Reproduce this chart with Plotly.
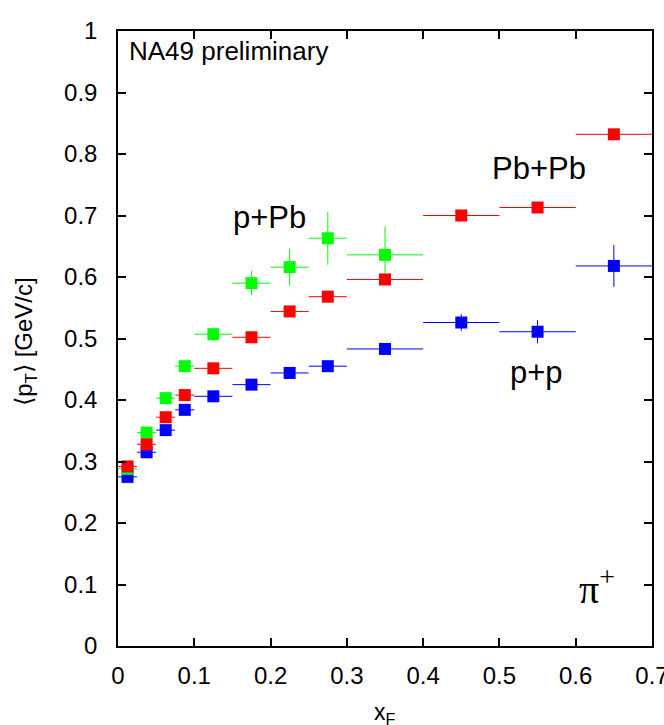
import plotly.graph_objects as go

# ---- data ----
x_centers = [0.0125, 0.0375, 0.0625, 0.0875, 0.125, 0.175, 0.225, 0.275, 0.35, 0.45, 0.55, 0.65]
x_low = [0.0, 0.025, 0.05, 0.075, 0.1, 0.15, 0.2, 0.25, 0.3, 0.4, 0.5, 0.6]
x_high = [0.025, 0.05, 0.075, 0.1, 0.15, 0.2, 0.25, 0.3, 0.4, 0.5, 0.6, 0.7]

pp_pt = [0.275, 0.315, 0.351, 0.384, 0.406, 0.425, 0.444, 0.455, 0.483, 0.526, 0.511, 0.618]
pp_err = [0.003, 0.003, 0.003, 0.003, 0.004, 0.004, 0.005, 0.006, 0.007, 0.0135, 0.019, 0.034]

pPb_pt = [0.288, 0.347, 0.403, 0.455, 0.507, 0.590, 0.616, 0.663, 0.636]
pPb_err_up = [0.003, 0.003, 0.004, 0.005, 0.011, 0.02, 0.03, 0.043, 0.046]
pPb_err_dn = [0.003, 0.003, 0.004, 0.005, 0.011, 0.02, 0.03, 0.043, 0.030]

PbPb_pt = [0.292, 0.328, 0.372, 0.408, 0.4515, 0.502, 0.544, 0.568, 0.596, 0.700, 0.713, 0.832]
PbPb_err = [0.003, 0.003, 0.003, 0.003, 0.004, 0.004, 0.004, 0.005, 0.005, 0.005, 0.006, 0.008]

x_tickvals = [0, 0.1, 0.2, 0.3, 0.4, 0.5, 0.6, 0.7]
x_ticktext = ["0", "0.1", "0.2", "0.3", "0.4", "0.5", "0.6", "0.7"]
y_tickvals = [0, 0.1, 0.2, 0.3, 0.4, 0.5, 0.6, 0.7, 0.8, 0.9, 1.0]
y_ticktext = ["0", "0.1", "0.2", "0.3", "0.4", "0.5", "0.6", "0.7", "0.8", "0.9", "1"]

FONT = "Liberation Sans, Arial, Helvetica, sans-serif"


def series(n, y, up, dn, color, name):
    xs = x_centers[:n]
    xp = [h - c for h, c in zip(x_high[:n], xs)]
    xm = [c - l for l, c in zip(x_low[:n], xs)]
    return go.Scatter(
        x=xs, y=y, mode="markers", name=name,
        marker=dict(symbol="square", size=12, color=color, line=dict(width=0)),
        error_x=dict(type="data", symmetric=False, array=xp, arrayminus=xm,
                     color=color, thickness=1, width=0),
        error_y=dict(type="data", symmetric=False, array=up, arrayminus=dn,
                     color=color, thickness=1, width=0),
        showlegend=False,
    )


fig = go.Figure()
fig.add_trace(series(len(pp_pt), pp_pt, pp_err, pp_err, "#0000ff", "p+p"))
fig.add_trace(series(len(pPb_pt), pPb_pt, pPb_err_up, pPb_err_dn, "#00ff00", "p+Pb"))
fig.add_trace(series(len(PbPb_pt), PbPb_pt, PbPb_err, PbPb_err, "#ff0000", "Pb+Pb"))

axis_common = dict(
    showgrid=False, zeroline=False, showline=True, linecolor="black", linewidth=1.5,
    mirror="ticks", ticks="inside", ticklen=8, tickwidth=1.5, tickcolor="black",
    tickfont=dict(family=FONT, size=24, color="black"),
    automargin=False, ticklabeloverflow="allow",
)

fig.update_layout(
    width=664, height=725,
    margin=dict(l=118, r=12, t=31, b=79, autoexpand=False),
    paper_bgcolor="white", plot_bgcolor="white",
    xaxis=dict(range=[0, 0.7], tickvals=x_tickvals, ticktext=x_ticktext,
               ticklabelstandoff=7, **axis_common),
    yaxis=dict(range=[0, 1], tickvals=y_tickvals, ticktext=y_ticktext,
               ticklabelstandoff=14, **axis_common),
    annotations=[
        dict(text="NA49 preliminary", x=0.012, y=0.968, xref="x", yref="y",
             xanchor="left", yanchor="middle", showarrow=False,
             font=dict(family=FONT, size=26, color="black")),
        dict(text="p+Pb", x=0.199, y=0.696, xref="x", yref="y",
             xanchor="center", yanchor="middle", showarrow=False,
             font=dict(family=FONT, size=31, color="black")),
        dict(text="Pb+Pb", x=0.552, y=0.777, xref="x", yref="y",
             xanchor="center", yanchor="middle", showarrow=False,
             font=dict(family=FONT, size=31, color="black")),
        dict(text="p+p", x=0.549, y=0.445, xref="x", yref="y",
             xanchor="center", yanchor="middle", showarrow=False,
             font=dict(family=FONT, size=31, color="black")),
        dict(text="π<sup>+</sup>", x=0.628, y=0.097, xref="x", yref="y",
             xanchor="center", yanchor="middle", showarrow=False,
             font=dict(family="Liberation Serif, Times New Roman, serif", size=40, color="black")),
        dict(text="⟨p<sub>T</sub>⟩ [GeV/c]", x=-0.174, y=0.495, xref="paper", yref="paper",
             xanchor="center", yanchor="middle", textangle=-90, showarrow=False,
             font=dict(family=FONT, size=24, color="black")),
        dict(text="x<sub>F</sub>", x=0.5, y=-0.11, xref="paper", yref="paper",
             xanchor="center", yanchor="middle", showarrow=False,
             font=dict(family=FONT, size=23, color="black")),
    ],
)

fig.write_html("out.html", config={"displayModeBar": False},
               post_script="document.body.style.margin='0';document.body.style.padding='0';")
